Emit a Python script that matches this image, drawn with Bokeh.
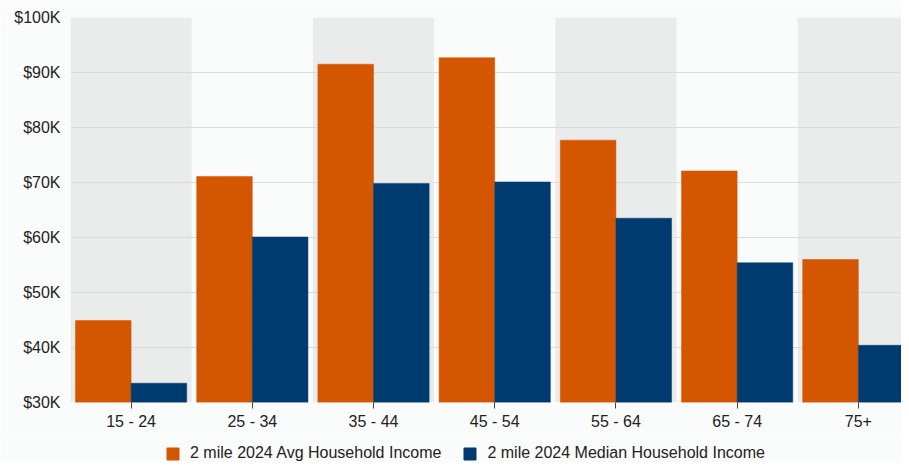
from bokeh.plotting import figure
from bokeh.layouts import column
from bokeh.models import Range1d, FixedTicker, Legend, LegendItem
from bokeh.embed import file_html
from bokeh.resources import INLINE

categories = ["15 - 24", "25 - 34", "35 - 44", "45 - 54", "55 - 64", "65 - 74", "75+"]
avg_income = [44900, 71100, 91500, 92700, 77700, 72100, 56000]
median_income = [33500, 60100, 69800, 70100, 63500, 55400, 40400]
series_names = ["2 mile 2024 Avg Household Income", "2 mile 2024 Median Household Income"]
y_ticks = [30000, 40000, 50000, 60000, 70000, 80000, 90000, 100000]
y_tick_labels = ["$30K", "$40K", "$50K", "$60K", "$70K", "$80K", "$90K", "$100K"]

ORANGE = "#D55600"
BLUE = "#003B70"
FONT = "Liberation Sans"
TEXT = "#222222"
BG = "#FAFBFB"

x_centers = [i + 0.5 for i in range(len(categories))]
group_w = 0.918
bar_w = group_w / 2

p = figure(width=901, height=438,
           x_range=Range1d(0, 6.856), y_range=Range1d(30000, 100000),
           output_backend="svg", toolbar_location=None,
           min_border_left=70, min_border_right=0, min_border_top=17, min_border_bottom=36,
           background_fill_color=BG, border_fill_color=BG)
p.outline_line_color = None

# alternating bands
band_x = [x_centers[i] for i in range(0, len(categories), 2)]
p.vbar(x=band_x, width=1, bottom=30000, top=100000, fill_color="#EAEBEB",
       line_color=None, level="image")

r1 = p.vbar(x=[c - bar_w / 2 for c in x_centers], width=bar_w, top=avg_income, bottom=0,
            fill_color=ORANGE, line_color=ORANGE, line_width=0.5)
r2 = p.vbar(x=[c + bar_w / 2 for c in x_centers], width=bar_w, top=median_income, bottom=0,
            fill_color=BLUE, line_color=BLUE, line_width=0.5)

# grid
p.xgrid.visible = False
p.ygrid.ticker = FixedTicker(ticks=y_ticks)
p.ygrid.grid_line_color = "#DADBDB"
p.ygrid.grid_line_width = 1

# y axis
p.yaxis.ticker = FixedTicker(ticks=y_ticks)
p.yaxis.major_label_overrides = dict(zip(y_ticks, y_tick_labels))
p.yaxis.axis_line_color = None
p.yaxis.major_tick_line_color = None
p.yaxis.minor_tick_line_color = None
p.yaxis.major_tick_in = 0
p.yaxis.major_tick_out = 0
p.yaxis.major_label_standoff = 10
p.yaxis.major_label_text_font = FONT
p.yaxis.major_label_text_font_size = "16px"
p.yaxis.major_label_text_color = TEXT

# x axis
p.xaxis.ticker = FixedTicker(ticks=x_centers)
p.xaxis.major_label_overrides = dict(zip(x_centers, categories))
p.xaxis.axis_line_color = None
p.xaxis.minor_tick_line_color = None
p.xaxis.major_tick_line_color = "#444444"
p.xaxis.major_tick_in = 0
p.xaxis.major_tick_out = 6
p.xaxis.major_label_standoff = 4
p.xaxis.major_label_text_font = FONT
p.xaxis.major_label_text_font_size = "16px"
p.xaxis.major_label_text_color = TEXT

# legend strip below the chart (its key glyphs sit outside the strip's visible range)
p2 = figure(width=901, height=24, x_range=Range1d(0, 1), y_range=Range1d(0, 1),
            output_backend="svg", toolbar_location=None,
            x_axis_location=None, y_axis_location=None,
            min_border_left=70, min_border_right=0, min_border_top=0, min_border_bottom=0,
            background_fill_color=BG, border_fill_color=BG)
p2.outline_line_color = None
p2.grid.visible = False
k1 = p2.vbar(x=[5], width=0.1, top=[5], bottom=[4], fill_color=ORANGE, line_color=ORANGE)
k2 = p2.vbar(x=[5], width=0.1, top=[5], bottom=[4], fill_color=BLUE, line_color=BLUE)

legend = Legend(items=[LegendItem(label=series_names[0], renderers=[k1]),
                       LegendItem(label=series_names[1], renderers=[k2])],
                orientation="horizontal", location=(95, 0),
                padding=0, margin=0, spacing=21,
                glyph_width=15, glyph_height=15, label_height=16, label_standoff=10,
                label_text_font=FONT, label_text_font_size="16px", label_text_color=TEXT,
                border_line_color=None, background_fill_alpha=0)
p2.add_layout(legend)

layout = column(p, p2, spacing=0)
open("out.html", "w").write(file_html(layout, INLINE))
